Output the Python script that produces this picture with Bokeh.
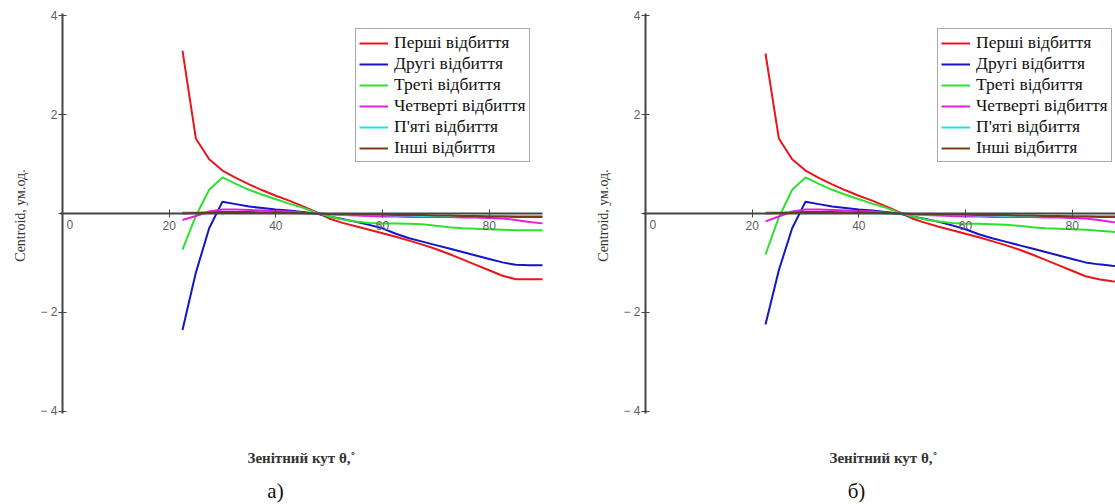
from bokeh.plotting import figure
from bokeh.models import Range1d, FixedTicker, Label, Legend, LegendItem, LinearAxis
from bokeh.layouts import row
from bokeh.embed import file_html
from bokeh.resources import INLINE

# ---- data ----
theta = [22.5, 25.0, 27.5, 30.0, 32.5, 35.0, 37.5, 40.0, 42.5, 45.0, 47.5, 50.0,
         52.5, 55.0, 57.5, 60.0, 62.5, 65.0, 67.5, 70.0, 72.5, 75.0, 77.5, 80.0,
         82.5, 85.0, 87.5, 90.0]

series_names = ["Перші відбиття", "Другі відбиття", "Треті відбиття",
                "Четверті відбиття", "П'яті відбиття", "Інші відбиття"]

red_a = [3.30, 1.52, 1.10, 0.87, 0.72, 0.59, 0.47, 0.36, 0.26, 0.15, 0.03, -0.10,
         -0.19, -0.26, -0.33, -0.40, -0.47, -0.55, -0.63, -0.72, -0.82, -0.93, -1.04, -1.15,
         -1.26, -1.33, -1.33, -1.33]
blue_a = [-2.36, -1.20, -0.30, 0.24, 0.19, 0.14, 0.11, 0.08, 0.06, 0.03, 0.00, -0.06,
          -0.11, -0.17, -0.23, -0.30, -0.41, -0.50, -0.57, -0.64, -0.71, -0.78, -0.85, -0.92,
          -0.99, -1.04, -1.05, -1.05]
green_a = [-0.73, -0.05, 0.48, 0.73, 0.60, 0.48, 0.38, 0.29, 0.20, 0.12, 0.02, -0.06,
           -0.12, -0.16, -0.19, -0.20, -0.20, -0.21, -0.22, -0.25, -0.28, -0.30, -0.31, -0.32,
           -0.33, -0.34, -0.34, -0.34]
magenta_a = [-0.13, -0.05, 0.04, 0.08, 0.08, 0.07, 0.06, 0.05, 0.04, 0.02, 0.00, -0.02,
             -0.03, -0.04, -0.05, -0.06, -0.06, -0.07, -0.07, -0.07, -0.07, -0.08, -0.08, -0.09,
             -0.10, -0.13, -0.17, -0.20]
cyan_a = [0.02, 0.02, 0.02, 0.02, 0.02, 0.02, 0.01, 0.01, 0.01, 0.00, 0.00, -0.01,
          -0.02, -0.02, -0.03, -0.03, -0.04, -0.04, -0.05, -0.05, -0.05, -0.05, -0.05, -0.05,
          -0.05, -0.05, -0.05, -0.05]
brown_a = [0.00, 0.01, 0.02, 0.03, 0.03, 0.03, 0.02, 0.02, 0.01, 0.01, 0.00, -0.01,
           -0.01, -0.02, -0.02, -0.02, -0.03, -0.03, -0.03, -0.04, -0.04, -0.05, -0.05, -0.06,
           -0.06, -0.07, -0.07, -0.07]

red_b = [3.24, 1.52, 1.10, 0.87, 0.72, 0.59, 0.47, 0.36, 0.26, 0.15, 0.03, -0.10,
         -0.19, -0.27, -0.34, -0.41, -0.48, -0.56, -0.64, -0.73, -0.83, -0.94, -1.05, -1.16,
         -1.27, -1.33, -1.37, -1.40]
blue_b = [-2.25, -1.15, -0.30, 0.24, 0.19, 0.14, 0.11, 0.08, 0.06, 0.03, 0.00, -0.06,
          -0.11, -0.17, -0.24, -0.32, -0.42, -0.50, -0.57, -0.64, -0.71, -0.78, -0.85, -0.92,
          -0.99, -1.03, -1.06, -1.08]
green_b = [-0.83, -0.08, 0.48, 0.73, 0.60, 0.48, 0.38, 0.29, 0.20, 0.12, 0.02, -0.06,
           -0.12, -0.16, -0.19, -0.21, -0.21, -0.22, -0.23, -0.25, -0.28, -0.30, -0.31, -0.32,
           -0.33, -0.35, -0.37, -0.39]
magenta_b = [-0.16, -0.06, 0.04, 0.08, 0.08, 0.07, 0.06, 0.05, 0.04, 0.02, 0.00, -0.02,
             -0.03, -0.04, -0.05, -0.06, -0.06, -0.07, -0.07, -0.07, -0.07, -0.08, -0.08, -0.09,
             -0.10, -0.13, -0.17, -0.20]
cyan_b = cyan_a
brown_b = brown_a

x_ticks = [0, 20, 40, 60, 80]
y_ticks = [-4, -2, 0, 2, 4]
x_axis_extent = [-0.4, 90.0]
y_axis_extent = [-4.05, 4.05]

colors = ["#e8161c", "#1414c8", "#2fe02f", "#e020e0", "#22e0e0", "#7a3a12"]

SERIF = "Liberation Serif"
SANS = "Liberation Sans"
PXX = 480 / 90.0      # pixels per degree
PXY = 400 / 8.1       # pixels per unit
H = 504
Y0 = 213              # pixel row of y = 0


def make_panel(series, width, x0px, letter, legend_left, title_cx, letter_cx):
    xr = Range1d(-x0px / PXX, (width - x0px) / PXX)
    yr = Range1d(-(H - Y0) / PXY, Y0 / PXY)
    p = figure(width=width, height=H, output_backend="svg", toolbar_location=None,
               x_range=xr, y_range=yr, min_border=0,
               x_axis_type=None, y_axis_type=None)
    p.outline_line_color = None
    p.grid.visible = False
    p.background_fill_color = "white"
    p.border_fill_color = "white"

    renderers = []
    for ys, c in zip(series, colors):
        r = p.line(theta, ys, line_color=c, line_width=2)
        renderers.append(r)

    # axis lines through the origin
    p.segment(x0=[x_axis_extent[0], 0], y0=[0, y_axis_extent[0]],
              x1=[x_axis_extent[1], 0], y1=[0, y_axis_extent[1]],
              line_color="#454545", line_width=2)

    xa = LinearAxis(ticker=FixedTicker(ticks=x_ticks), fixed_location=0)
    ya = LinearAxis(ticker=FixedTicker(ticks=y_ticks), fixed_location=0)
    for ax in (xa, ya):
        ax.axis_line_color = None
        ax.major_tick_line_color = "#454545"
        ax.major_tick_line_width = 1
        ax.major_tick_in = 4
        ax.major_tick_out = 4
        ax.minor_tick_line_color = None
        ax.major_label_text_font = SANS
        ax.major_label_text_font_size = "12px"
        ax.major_label_text_color = "#606060"
    xa.major_label_overrides = {0: ""}
    xa.major_label_standoff = 3
    ya.major_label_overrides = {0: "", -2: "− 2", -4: "− 4"}
    ya.major_label_standoff = 1
    p.add_layout(xa, "below")
    p.add_layout(ya, "left")

    # origin label "0"
    p.add_layout(Label(x=x_ticks[0], y=0, text="0", x_offset=4, y_offset=-6,
                       text_align="left", text_baseline="top", text_font=SANS,
                       text_font_size="12px", text_color="#606060"))

    legend = Legend(items=[LegendItem(label=n, renderers=[r])
                           for n, r in zip(series_names, renderers)],
                    location=(legend_left, H - 162))
    legend.label_text_font = SERIF
    legend.label_text_font_size = "17.5px"
    legend.label_text_color = "#111111"
    legend.label_height = 20
    legend.glyph_height = 20
    legend.glyph_width = 29
    legend.label_standoff = 6
    legend.spacing = 0
    legend.padding = 3
    legend.margin = 0
    legend.border_line_color = "#555555"
    legend.border_line_width = 1
    legend.background_fill_alpha = 1
    p.add_layout(legend, "center")

    p.add_layout(Label(x=x0px - 42, y=H - 215, x_units="screen", y_units="screen",
                       text="Centroid, ум.од.", angle=90, angle_units="deg",
                       text_align="center", text_baseline="middle",
                       text_font=SERIF, text_font_size="14px", text_color="#333333"))
    p.add_layout(Label(x=title_cx, y=H - 457, x_units="screen", y_units="screen",
                       text="Зенітний кут θ,˚", text_align="center", text_baseline="middle",
                       text_font=SERIF, text_font_size="15px", text_font_style="bold",
                       text_color="#333333"))
    p.add_layout(Label(x=letter_cx, y=H - 490, x_units="screen", y_units="screen",
                       text=letter, text_align="center", text_baseline="middle",
                       text_font=SERIF, text_font_size="21px", text_color="#111111"))
    return p


pa = make_panel([red_a, blue_a, green_a, magenta_a, cyan_a, brown_a],
                557, 62, "а)", 355, 301, 275)
pb = make_panel([red_b, blue_b, green_b, magenta_b, cyan_b, brown_b],
                558, 88, "б)", 380, 326, 299)

layout = row(pa, pb)
open("out.html", "w").write(file_html(layout, INLINE))
